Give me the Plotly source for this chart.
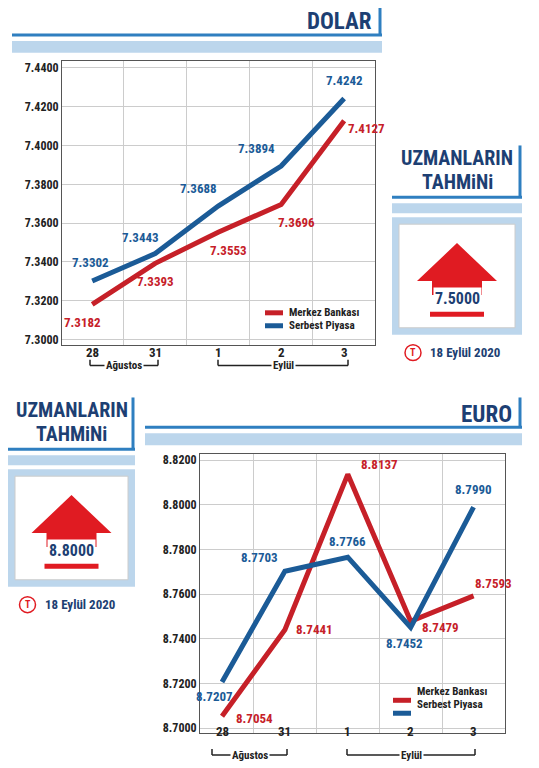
import plotly.graph_objects as go

cats = ["28", "31", "1", "2", "3"]
usd_mb = [7.3182, 7.3393, 7.3553, 7.3696, 7.4127]
usd_sp = [7.3302, 7.3443, 7.3688, 7.3894, 7.4242]
eur_mb = [8.7054, 8.7441, 8.8137, 8.7479, 8.7593]
eur_sp = [8.7207, 8.7703, 8.7766, 8.7452, 8.7990]
usd_ticks = [7.30, 7.32, 7.34, 7.36, 7.38, 7.40, 7.42, 7.44]
eur_ticks = [8.70, 8.72, 8.74, 8.76, 8.78, 8.80, 8.82]
usd_forecast = "7.5000"
eur_forecast = "8.8000"

RED = "#c62028"; BLUE = "#1b5b97"; NAVY = "#1d3f73"; LINE = "#2f7fc0"; LB = "#bcd6ec"
FONT = "Roboto Condensed, Roboto, Arial"
W, H = 539, 768
OFF = 8
px = lambda v: (v - OFF) / W
py = lambda v: 1 - (v - OFF) / H
xs = list(range(5))

fig = go.Figure()
fig.add_trace(go.Scatter(x=xs, y=usd_mb, mode="lines", line=dict(color=RED, width=5), xaxis="x", yaxis="y", showlegend=False))
fig.add_trace(go.Scatter(x=xs, y=usd_sp, mode="lines", line=dict(color=BLUE, width=5), xaxis="x", yaxis="y", showlegend=False))
fig.add_trace(go.Scatter(x=xs, y=eur_mb, mode="lines", line=dict(color=RED, width=5), xaxis="x2", yaxis="y2", showlegend=False))
fig.add_trace(go.Scatter(x=xs, y=eur_sp, mode="lines", line=dict(color=BLUE, width=5), xaxis="x2", yaxis="y2", showlegend=False))

ax = dict(showline=True, linecolor="#555", linewidth=1, mirror=True, zeroline=False, gridcolor="#cccccc")
tf = dict(size=12, family=FONT, color="#222")
fig.update_layout(
    width=W, height=H, margin=dict(l=0, r=0, t=0, b=0), paper_bgcolor="white", plot_bgcolor="white",
    font=dict(family=FONT, size=12, color="#222"),
    xaxis=dict(domain=[px(62), px(375)], range=[-0.48, 4.49], tickvals=[0.5, 1.5, 2.5, 3.5], showticklabels=False, **ax),
    yaxis=dict(domain=[py(345), py(60)], range=[7.2974, 7.4436], tickvals=usd_ticks, ticktext=[f"<b>{t:.4f}</b>" for t in usd_ticks], tickfont=tf, **ax),
    xaxis2=dict(domain=[px(200), px(505)], range=[-0.35, 4.5], tickvals=[0.5, 1.5, 2.5, 3.5], showticklabels=False, anchor="y2", **ax),
    yaxis2=dict(domain=[py(735), py(455)], range=[8.6978, 8.8227], tickvals=eur_ticks, ticktext=[f"<b>{t:.4f}</b>" for t in eur_ticks], tickfont=tf, anchor="x2", **ax),
)

ann = []
shapes = []
def txt(x, y, t, color="#222", size=13, xa="center", bg=None):
    d = dict(x=x, y=y, xref="paper", yref="paper", text=f"<b>{t}</b>", showarrow=False,
             font=dict(color=color, size=size, family=FONT), xanchor=xa, yanchor="middle")
    if bg:
        d["bgcolor"] = bg
    ann.append(d)

lf = lambda c: dict(color=c, size=13, family=FONT)
for i in xs:
    ann.append(dict(x=i, y=usd_mb[i], xref="x", yref="y", text=f"<b>{usd_mb[i]:.4f}</b>", showarrow=False, yshift=-18 if i < 4 else -8, xshift=[-10, 0, 10, 15, 22][i], font=lf(RED)))
    ann.append(dict(x=i, y=usd_sp[i], xref="x", yref="y", text=f"<b>{usd_sp[i]:.4f}</b>", showarrow=False, yshift=[18, 16, 18, 18, 18][i], xshift=[-2, -15, -20, -25, 0][i], font=lf(BLUE)))
    ann.append(dict(x=i, y=eur_mb[i], xref="x2", yref="y2", text=f"<b>{eur_mb[i]:.4f}</b>", showarrow=False, yshift=[-2, 0, 10, -6, 12][i], xshift=[32, 30, 32, 30, 20][i], font=lf(RED)))
    ann.append(dict(x=i, y=eur_sp[i], xref="x2", yref="y2", text=f"<b>{eur_sp[i]:.4f}</b>", showarrow=False, yshift=[-14, 14, 16, -16, 18][i], xshift=[-8, -25, 0, -6, 0][i], font=lf(BLUE)))

for i, c in enumerate(cats):
    ann.append(dict(x=i, y=py(353), xref="x", yref="paper", text=f"<b>{c}</b>", showarrow=False, font=dict(size=13, family=FONT)))
    ann.append(dict(x=i, y=py(743), xref="x2", yref="paper", text=f"<b>{c}</b>", showarrow=False, font=dict(size=13, family=FONT)))

def brackets(x0a, x1a, x0e, x1e, ymid):
    for a, b, t in [(x0a, x1a, "Ağustos"), (x0e, x1e, "Eylül")]:
        shapes.append(dict(type="line", xref="paper", yref="paper", x0=px(a), x1=px(b), y0=py(ymid), y1=py(ymid), line=dict(color="#222", width=1.5)))
        for xx in (a, b):
            shapes.append(dict(type="line", xref="paper", yref="paper", x0=px(xx), x1=px(xx), y0=py(ymid - 6), y1=py(ymid), line=dict(color="#222", width=1.5)))
        txt(px((a + b) / 2), py(ymid), t, size=11, bg="white")
brackets(90, 158, 218, 348, 366)
brackets(212, 287, 347, 475, 757)

def title_bar(x0, x1, ytop, text):
    shapes.append(dict(type="line", xref="paper", yref="paper", x0=px(x0), x1=px(x1), y0=py(ytop + 30), y1=py(ytop + 30), line=dict(color=LINE, width=3)))
    shapes.append(dict(type="line", xref="paper", yref="paper", x0=px(x1 - 2), x1=px(x1 - 2), y0=py(ytop), y1=py(ytop + 30), line=dict(color=LINE, width=3)))
    txt(px(x1 - 8), py(ytop + 17), text, color=NAVY, size=23, xa="right")
    shapes.append(dict(type="rect", xref="paper", yref="paper", x0=px(x0), x1=px(x1), y0=py(ytop + 48), y1=py(ytop + 36), fillcolor=LB, line=dict(width=0)))
title_bar(12, 382, 4, "DOLAR")
title_bar(145, 522, 398, "EURO")

def forecast(x0, x1, ytop, val):
    cx = (x0 + x1) / 2
    txt(px(cx), py(ytop + 13), "UZMANLARIN", color=NAVY, size=20)
    txt(px(cx), py(ytop + 37), "TAHMiNi", color=NAVY, size=20)
    shapes.append(dict(type="line", xref="paper", yref="paper", x0=px(x0), x1=px(x1), y0=py(ytop + 52), y1=py(ytop + 52), line=dict(color=LINE, width=3)))
    shapes.append(dict(type="line", xref="paper", yref="paper", x0=px(x1 - 2), x1=px(x1 - 2), y0=py(ytop), y1=py(ytop + 52), line=dict(color=LINE, width=3)))
    shapes.append(dict(type="rect", xref="paper", yref="paper", x0=px(x0), x1=px(x1), y0=py(ytop + 68), y1=py(ytop + 58), fillcolor=LB, line=dict(width=0)))
    shapes.append(dict(type="rect", xref="paper", yref="paper", x0=px(x0), x1=px(x1), y0=py(ytop + 190), y1=py(ytop + 72), fillcolor=LB, line=dict(width=0)))
    shapes.append(dict(type="rect", xref="paper", yref="paper", x0=px(x0 + 7), x1=px(x1 - 7), y0=py(ytop + 183), y1=py(ytop + 79), fillcolor="white", line=dict(color="#ccc", width=1)))
    t = ytop + 98
    path = f"M {px(cx)} {py(t)} L {px(cx+40)} {py(t+38)} L {px(cx+25)} {py(t+38)} L {px(cx+25)} {py(t+52)} L {px(cx-25)} {py(t+52)} L {px(cx-25)} {py(t+38)} L {px(cx-40)} {py(t+38)} Z"
    shapes.append(dict(type="path", xref="paper", yref="paper", path=path, fillcolor="#e01b22", line=dict(width=0)))
    txt(px(cx), py(t + 56), val, size=16, color=NAVY, bg="white")
    shapes.append(dict(type="rect", xref="paper", yref="paper", x0=px(cx - 27), x1=px(cx + 27), y0=py(t + 74), y1=py(t + 69), fillcolor="#e01b22", line=dict(width=0)))
    txt(px(cx + 8), py(ytop + 208), "18 Eylül 2020", size=13, color=NAVY)
    shapes.append(dict(type="circle", xref="paper", yref="paper", x0=px(cx - 52), x1=px(cx - 36), y0=py(ytop + 216), y1=py(ytop + 200), line=dict(color="#e01b22", width=1.5)))
    txt(px(cx - 44), py(ytop + 208), "T", color="#e01b22", size=10)
forecast(392, 522, 145, usd_forecast)
forecast(8, 135, 398, eur_forecast)

def legend(x0, y0):
    for k, (c, t) in enumerate([(RED, "Merkez Bankası"), (BLUE, "Serbest Piyasa")]):
        yy = y0 + k * 13
        shapes.append(dict(type="line", xref="paper", yref="paper", x0=px(x0), x1=px(x0 + 18), y0=py(yy), y1=py(yy), line=dict(color=c, width=5)))
        ann.append(dict(x=px(x0 + 22), y=py(yy), xref="paper", yref="paper", text=f"<b>{t}</b>", xanchor="left", showarrow=False, font=dict(size=11, family=FONT, color="#222")))
legend(265, 313)
legend(393, 702)

fig.update_layout(annotations=ann, shapes=shapes)
fig.write_html("out.html")
